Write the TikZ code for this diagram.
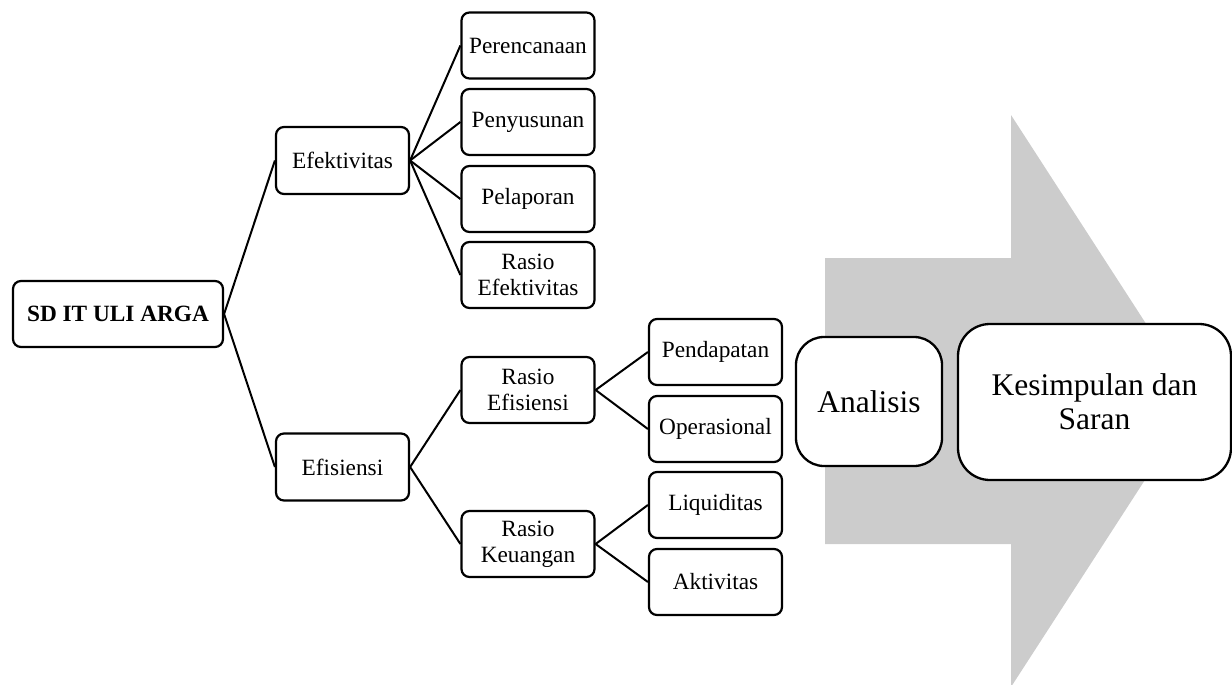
\documentclass[tikz,border=0pt]{standalone}
\usepackage{fontspec}
\setmainfont{Liberation Serif}
\definecolor{arrowgray}{HTML}{CCCCCC}
\begin{document}
\begin{tikzpicture}[x=1pt,y=-1pt,
  box/.style={draw=black, line width=2.2pt, rounded corners=8pt, fill=white,
    minimum width=133pt, minimum height=66pt, inner sep=2pt, align=center,
    font=\fontsize{23.3}{26}\selectfont},
  bigbox/.style={draw=black, line width=2.3pt, fill=white, inner sep=2pt, align=center,
    font=\fontsize{31.5}{34}\selectfont},
  link/.style={draw=black, line width=2pt}]
\useasboundingbox (0,0) rectangle (1232,685);
% big gray arrow
\path[fill=arrowgray] (825,258) -- (1011,258) -- (1011,115) -- (1196,401) -- (1011,687) -- (1011,544) -- (825,544) -- cycle;
% nodes
\node[box, minimum width=210pt, font=\fontsize{23.3}{26}\selectfont\bfseries] (sd) at (118,314) {SD IT ULI ARGA};
\node[box, minimum height=67pt] (efek) at (342.5,160.5) {Efektivitas};
\node[box, minimum height=67pt] (efis) at (342.5,467) {Efisiensi};
\node[box] (per) at (528,45.5) {Perencanaan};
\node[box] (pen) at (528,122) {Penyusunan};
\node[box] (pel) at (528,199) {Pelaporan};
\node[box] (ref) at (528,275) {Rasio\\Efektivitas};
\node[box] (rei) at (528,390) {Rasio\\Efisiensi};
\node[box] (rk) at (528,544) {Rasio\\Keuangan};
\node[box] (pdp) at (715.5,352) {Pendapatan};
\node[box] (ops) at (715.5,429) {Operasional};
\node[box] (liq) at (715.5,505) {Liquiditas};
\node[box] (akt) at (715.5,582) {Aktivitas};
\node[bigbox, rounded corners=28pt, minimum width=146pt, minimum height=129pt] (ana) at (869,401.5) {Analisis};
\node[bigbox, rounded corners=32pt, minimum width=273pt, minimum height=156pt] (kes) at (1094.5,402) {Kesimpulan dan\\Saran};
% connectors
\foreach \c in {efek,efis} \draw[link] (sd.east) -- (\c.west);
\foreach \c in {per,pen,pel,ref} \draw[link] (efek.east) -- (\c.west);
\foreach \c in {rei,rk} \draw[link] (efis.east) -- (\c.west);
\foreach \c in {pdp,ops} \draw[link] (rei.east) -- (\c.west);
\foreach \c in {liq,akt} \draw[link] (rk.east) -- (\c.west);
\end{tikzpicture}
\end{document}
